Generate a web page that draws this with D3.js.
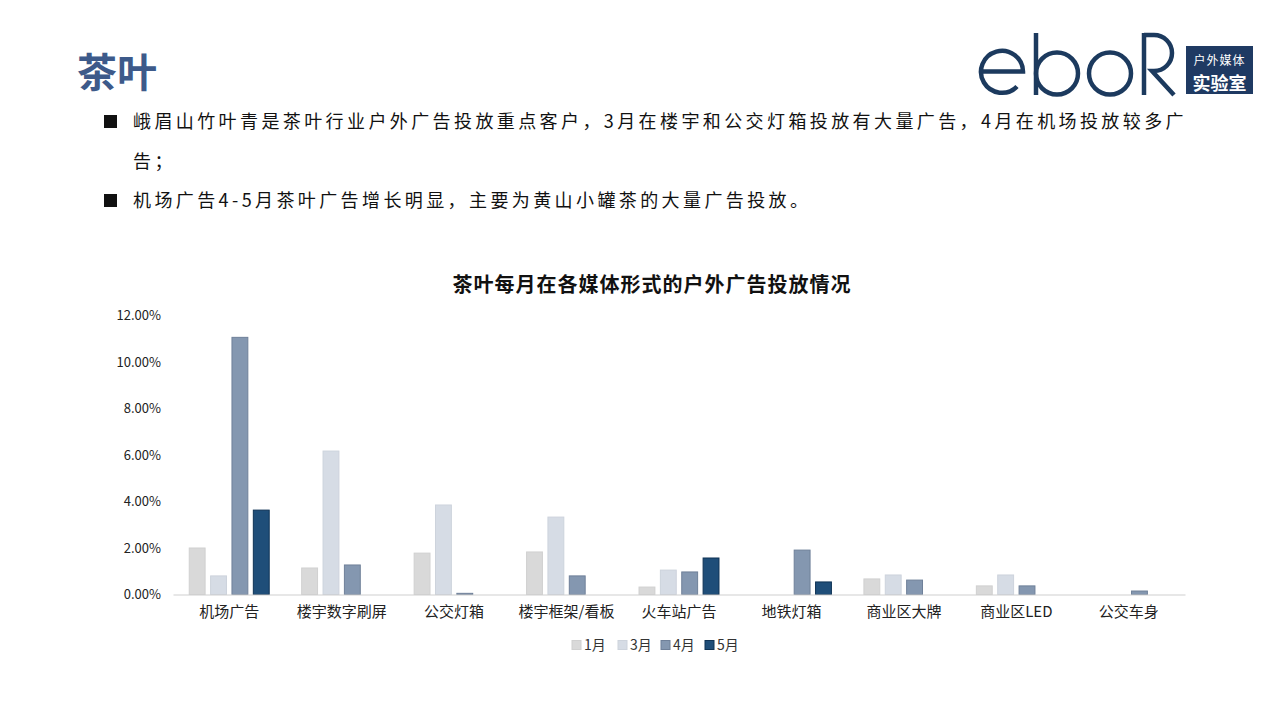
<!DOCTYPE html>
<html><head><meta charset="utf-8">
<script src="https://cdn.jsdelivr.net/npm/d3@7/dist/d3.min.js"></script>
<style>
html,body{margin:0;padding:0;background:#fff;}
svg{display:block;}
text{font-family:"Noto Sans CJK SC","Noto Sans",sans-serif;}
</style></head>
<body>
<svg id="c" width="1280" height="720"></svg>
<script>
const categories = ["机场广告","楼宇数字刷屏","公交灯箱","楼宇框架/看板","火车站广告","地铁灯箱","商业区大牌","商业区LED","公交车身"];
const seriesNames = ["1月","3月","4月","5月"];
const jan = [2.00, 1.14, 1.78, 1.83, 0.32, 0, 0.67, 0.37, 0];
const mar = [0.80, 6.17, 3.85, 3.33, 1.05, 0, 0.84, 0.84, 0];
const apr = [11.06, 1.27, 0.05, 0.80, 0.97, 1.91, 0.62, 0.37, 0.15];
const may = [3.63, 0, 0, 0, 1.57, 0.54, 0, 0, 0];
const yTicks = [0, 2, 4, 6, 8, 10, 12];
const pageTitle = "茶叶";
const chartTitle = "茶叶每月在各媒体形式的户外广告投放情况";
const bullets = [
  ["峨眉山竹叶青是茶叶行业户外广告投放重点客户，3月在楼宇和公交灯箱投放有大量广告，4月在机场投放较多广", "告；"],
  ["机场广告4-5月茶叶广告增长明显，主要为黄山小罐茶的大量广告投放。"]
];

const colors = ["#d9d9d9", "#d6dce5", "#8497b0", "#1f4e79"];
const strokes = ["#d0d0d0", "#cdd3dc", "#6f8099", "#0f3355"];
const series = [jan, mar, apr, may];

const svg = d3.select("#c");

// Page title
svg.append("text").attr("x", 77).attr("y", 87).attr("font-size", 40).attr("font-weight", "bold")
  .attr("fill", "#3d5a8a").text(pageTitle);

// Logo
const logo = svg.append("g").attr("fill", "none").attr("stroke", "#1c3a5e").attr("stroke-width", 4.5);
logo.append("path").attr("d", "M981,71.5 L1023,71.5 A21,21 0 1 0 1017,86.5");
logo.append("line").attr("x1",1036).attr("y1",33).attr("x2",1036).attr("y2",95);
logo.append("circle").attr("cx",1057).attr("cy",73.5).attr("r",21);
logo.append("circle").attr("cx",1110).attr("cy",73.5).attr("r",21);
logo.append("line").attr("x1",1144).attr("y1",33).attr("x2",1144).attr("y2",95);
logo.append("path").attr("d", "M1144,35 L1154,35 A18,18 0 0 1 1154,71 L1152,71 L1174,95");
svg.append("rect").attr("x",1186).attr("y",46).attr("width",67).attr("height",48).attr("fill","#1f3a63");
svg.append("text").attr("x",1219.5).attr("y",65).attr("text-anchor","middle").attr("font-size",12).attr("fill","#fff").attr("letter-spacing",1).text("户外媒体");
svg.append("text").attr("x",1219.5).attr("y",90).attr("text-anchor","middle").attr("font-size",18).attr("font-weight","bold").attr("fill","#fff").text("实验室");

// Bullets
const bulletY = [[121, 161], [200]];
bullets.forEach((lines, i) => {
  svg.append("rect").attr("x",104).attr("y",bulletY[i][0]-6).attr("width",13).attr("height",13).attr("fill","#111");
  lines.forEach((ln, j) => {
    svg.append("text").attr("x",133).attr("y",bulletY[i][j]+7).attr("font-size",18).attr("letter-spacing",3.4)
      .attr("fill","#111").text(ln);
  });
});

// Chart
const x0 = d3.scaleBand().domain(categories).range([173, 1185]).paddingInner(0.28).paddingOuter(0.14);
const x1 = d3.scaleBand().domain(seriesNames).range([0, x0.bandwidth()]).paddingInner(0.21);
const y = d3.scaleLinear().domain([0, 12]).range([594.5, 315.5]);

svg.append("text").attr("x", 652).attr("y", 292).attr("text-anchor","middle").attr("font-size",20)
  .attr("font-weight","bold").attr("letter-spacing",1).attr("fill","#111").text(chartTitle);

const yAxis = svg.append("g").attr("transform","translate(173,0)")
  .call(d3.axisLeft(y).tickValues(yTicks).tickSize(0).tickPadding(12).tickFormat(d => d3.format(".2f")(d) + "%"));
yAxis.select(".domain").remove();
yAxis.selectAll("text").attr("font-size",13).attr("fill","#222").attr("font-family","'Liberation Sans','Noto Sans CJK SC',sans-serif");

const groups = svg.append("g").selectAll("g").data(categories).join("g")
  .attr("transform", d => `translate(${x0(d)},0)`);
groups.selectAll("rect").data((d, i) => seriesNames.map((s, k) => ({s, k, v: series[k][i]})).filter(o => o.v > 0))
  .join("rect")
  .attr("x", o => x1(o.s) + 0.5)
  .attr("width", x1.bandwidth() - 1)
  .attr("y", o => y(o.v))
  .attr("height", o => y(0) - y(o.v))
  .attr("fill", o => colors[o.k])
  .attr("stroke", o => strokes[o.k])
  .attr("stroke-width", 1);

const xAxis = svg.append("g").attr("transform", `translate(0,${y(0)})`)
  .call(d3.axisBottom(x0).tickSize(0).tickPadding(12));
xAxis.select(".domain").attr("stroke","#d0d0d0").attr("stroke-width",1.2);
xAxis.selectAll("text").attr("font-size",15).attr("fill","#222");

// Legend
const legendX = [572, 618, 661, 705];
const leg = svg.append("g").selectAll("g").data(seriesNames).join("g")
  .attr("transform", (d, i) => `translate(${legendX[i]},645)`);
leg.append("rect").attr("x",0).attr("y",-4.5).attr("width",9).attr("height",9)
  .attr("fill", (d, i) => colors[i]).attr("stroke", (d, i) => strokes[i]);
leg.append("text").attr("x",12).attr("y",5).attr("font-size",14).attr("fill","#333").text(d => d);
</script>
</body></html>
